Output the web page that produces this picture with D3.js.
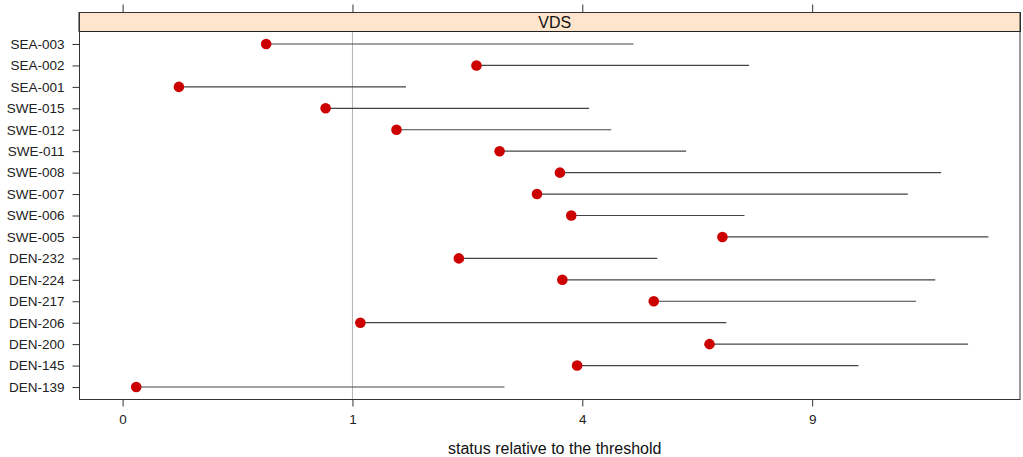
<!DOCTYPE html>
<html>
<head>
<meta charset="utf-8">
<script src="https://cdn.jsdelivr.net/npm/d3@7"></script>
<style>
  body { margin: 0; background: #fff; }
  text { font-family: "Liberation Sans", Arial, sans-serif; }
</style>
</head>
<body>
<svg id="main" width="1023" height="457"></svg>
<script>
// stations, top to bottom
const stations = ["SEA-003","SEA-002","SEA-001","SWE-015","SWE-012","SWE-011","SWE-008","SWE-007",
  "SWE-006","SWE-005","DEN-232","DEN-224","DEN-217","DEN-206","DEN-200","DEN-145","DEN-139"];
// status (dot) and upper end of the segment
const status = [0.39,2.37,0.06,0.78,1.42,2.69,3.62,3.25,3.81,6.81,2.14,3.66,5.34,1.07,6.52,3.91,0.0035];
const upper  = [4.94,7.43,1.52,4.12,4.52,6.01,12.68,11.67,7.32,14.19,5.41,12.50,11.92,6.90,13.53,10.25,2.76];
const xTicks = [0,1,4,9];
const threshold = 1;
const panelTitle = "VDS";
const xLabel = "status relative to the threshold";

function draw() {
    const svg = d3.select("#main");
    const left = 79, right = 1020.5, top = 12, stripH = 19, bottom = 399;

    const x = d3.scaleSqrt().domain([-0.036, 15.26]).range([left, right]);
    const y = d3.scalePoint().domain(stations).range([44, 387]);

    // strip
    svg.append('rect')
        .attr('x', left).attr('y', top + 0.5)
        .attr('width', right - left).attr('height', stripH)
        .attr('fill', '#ffe5cc').attr('stroke', '#222');
    svg.append('text')
        .attr('x', (left + right) / 2 + 5).attr('y', top + 15.5)
        .attr('text-anchor', 'middle').attr('font-size', 16).attr('fill', '#111')
        .text(panelTitle);

    // reference line
    svg.append('line')
        .attr('x1', x(threshold)).attr('x2', x(threshold))
        .attr('y1', top + stripH + 1).attr('y2', bottom)
        .attr('stroke', '#b3b3b3').attr('stroke-width', 1);

    // segments
    svg.append('g').selectAll('line').data(stations).join('line')
        .attr('x1', (d, i) => x(status[i])).attr('x2', (d, i) => x(upper[i]))
        .attr('y1', d => y(d)).attr('y2', d => y(d))
        .attr('stroke', '#444').attr('stroke-width', 1.2);

    // dots
    svg.append('g').selectAll('circle').data(stations).join('circle')
        .attr('cx', (d, i) => x(status[i])).attr('cy', d => y(d))
        .attr('r', 5.3).attr('fill', '#cc0000');

    // panel border
    svg.append('rect')
        .attr('x', left + 0.5).attr('y', top + 0.5)
        .attr('width', right - left - 1).attr('height', bottom - top)
        .attr('fill', 'none').attr('stroke', '#333');

    // axes
    const yAxis = svg.append('g').attr('transform', `translate(${left + 0.5},0)`)
        .call(d3.axisLeft(y).tickSize(7).tickPadding(8));
    const xAxis = svg.append('g').attr('transform', `translate(0,${bottom + 0.5})`)
        .call(d3.axisBottom(x).tickValues(xTicks).tickFormat(d3.format('d')).tickSize(7).tickPadding(8));
    const xTop = svg.append('g').attr('transform', `translate(0,${top + 0.5})`)
        .call(d3.axisTop(x).tickValues(xTicks).tickSize(8).tickFormat(''));
    [yAxis, xAxis, xTop].forEach(g => {
        g.select('.domain').remove();
        g.selectAll('line').attr('stroke', '#333');
        g.selectAll('text').attr('font-size', 13.5).attr('fill', '#222')
            .attr('font-family', '"Liberation Sans", Arial, sans-serif');
    });

    svg.append('text')
        .attr('x', (left + right) / 2 + 5).attr('y', 454)
        .attr('text-anchor', 'middle').attr('font-size', 16).attr('fill', '#111')
        .text(xLabel);
}

draw()
</script>
</body>
</html>
